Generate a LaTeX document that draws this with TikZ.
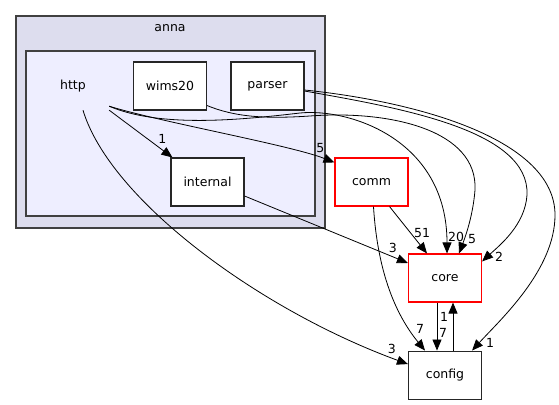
\documentclass[tikz,border=0pt]{standalone}
\usepackage{fontspec}
\setmainfont{DejaVu Sans}
\usetikzlibrary{arrows.meta, positioning}
\tikzset{>={Triangle[length=11pt,width=9pt]}}
\definecolor{annafill}{HTML}{DDDDEE}
\definecolor{httpfill}{HTML}{EEEEFF}
\tikzset{
  clusterbox/.style={draw=black!75, line width=1.2pt},
  dirbox/.style={draw=black!85, fill=white, line width=1.1pt, minimum width=73pt, minimum height=48pt, inner sep=0pt},
  reddir/.style={dirbox, draw=red},
  dep/.style={->, line width=0.8pt},
  elabel/.style={inner sep=0pt},
}

\begin{document}
\begin{tikzpicture}[x=1pt, y=-1pt, font=\fontsize{12.5}{15}\selectfont]
          \useasboundingbox (0,0) rectangle (559,404);
          % clusters
          \filldraw[clusterbox, fill=annafill] (16,16) rectangle (325,228);
          \node (anna) at (170,28) {anna};
          \filldraw[clusterbox, fill=httpfill] (26,51) rectangle (315,216);
          \node[minimum width=72pt, minimum height=48pt, inner sep=0pt] (http) at (73,86) {http};
          % directories
          \node[dirbox] (wims20) at (170,86) {wims20};
          \node[dirbox] (parser) at (267.5,86) {parser};
          \node[dirbox] (internal) at (207.5,182) {internal};
          \node[reddir] (comm) at (371.5,182) {comm};
          \node[reddir] (core) at (445,278) {core};
          \node[dirbox, below=48pt of core] (config) {config};
          % dependencies
          \draw[dep] (http.south east) -- ([xshift=2pt]internal.north west) node[elabel, shift={(-10,-19)}] {1};
          \draw[dep] ([yshift=4pt]http.south east) .. controls (160,122) and (290,145) .. ([yshift=-5pt]comm.north west) node[elabel, shift={(-14,-14)}] {5};
          \draw[dep] ([yshift=4pt]http.south east) .. controls (160,128) and (240,120) .. (300,113) .. controls (350,108) and (447,140) .. ([xshift=2pt]core.north) node[elabel, shift={(9,-17)}] {20};
          \draw[dep] ([xshift=10pt]http.south) .. controls (110,200) and (260,310) .. ([yshift=11pt]config.west) node[elabel, shift={(-16,-15)}] {3};
          \draw[dep] ([yshift=5pt]wims20.south east) .. controls (235,117) and (265,119) .. (310,116) .. controls (390,110) and (478,130) .. (475,190) .. controls (473,215) and (466,235) .. ([xshift=14pt]core.north) node[elabel, shift={(13,-14)}] {5};
          \draw[dep] ([yshift=-5pt]parser.east) .. controls (400,108) and (530,130) .. (527,195) .. controls (525,225) and (500,245) .. ([yshift=-8pt]core.north east) node[elabel, shift={(17,-5)}] {2};
          \draw[dep] ([yshift=-4pt]parser.east) .. controls (420,102) and (555,140) .. (555,215) .. controls (555,270) and (500,320) .. ([xshift=-10pt]config.north east) node[elabel, shift={(18,-8)}] {1};
          \draw[dep] ([yshift=-14pt]internal.east) -- ([yshift=15pt]core.west) node[elabel, shift={(-15,-15)}] {3};
          \draw[dep] ([xshift=18pt]comm.south) -- ([xshift=-18pt]core.north) node[elabel, shift={(-5,-20)}] {51};
          \draw[dep] ([xshift=2pt]comm.south) .. controls (378,280) and (400,320) .. ([xshift=-20pt]config.north) node[elabel, shift={(-5,-22)}] {7};
          \draw[dep] ([xshift=-8pt]core.south) -- ([xshift=-8pt]config.north) node[elabel, shift={(6,-18)}] {7};
          \draw[dep] ([xshift=8pt]config.north) -- ([xshift=8pt]core.south) node[elabel, shift={(-9,14)}] {1};
        \end{tikzpicture}
\end{document}
